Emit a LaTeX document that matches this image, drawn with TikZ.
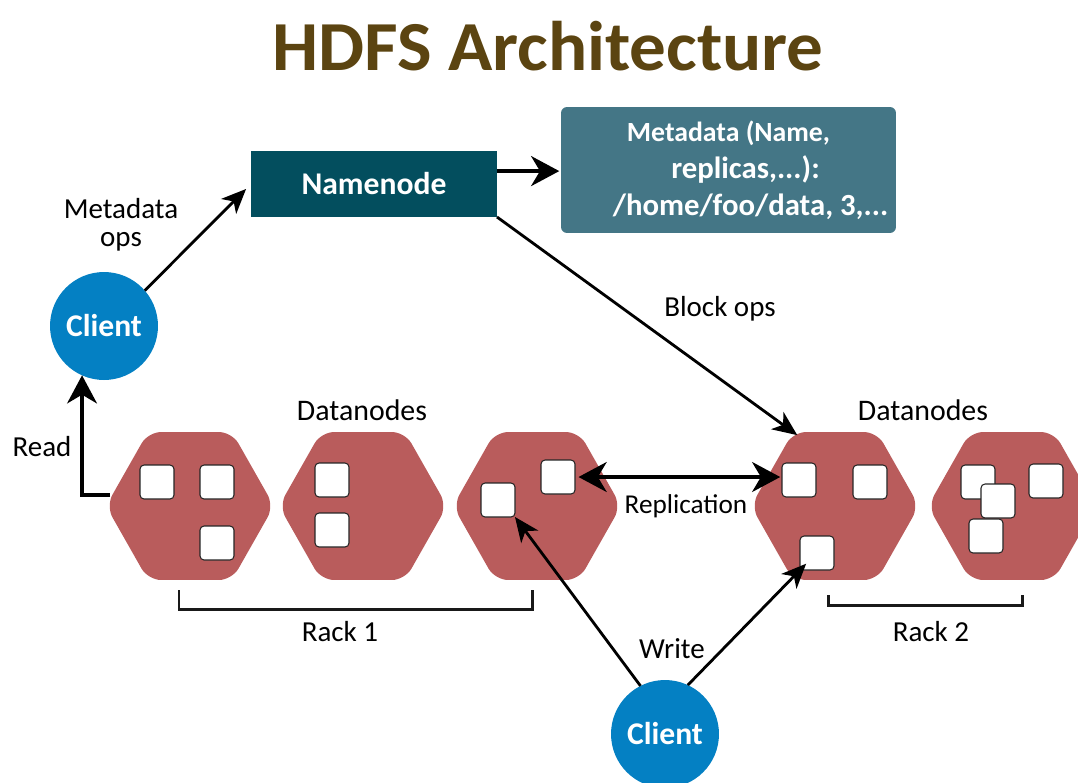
\documentclass[tikz,border=0pt]{standalone}
\usepackage{fontspec}
\usepackage{xcolor}
\usetikzlibrary{arrows.meta,shapes.geometric}
\setmainfont{Carlito}
\definecolor{titlebrown}{HTML}{5B4411}
\definecolor{namefill}{HTML}{034E5E}
\definecolor{metafill}{HTML}{447686}
\definecolor{hexfill}{HTML}{B95C5C}
\definecolor{clientfill}{HTML}{0480C3}
\tikzset{
    label/.style={font=\fontsize{16.5}{16}\selectfont,text=black,inner sep=0pt,align=center},
    whitelabel/.style={font=\fontsize{18}{21}\selectfont\bfseries,text=white,inner sep=0pt,align=center},
    client/.style={circle,fill=clientfill,minimum size=2.16cm,inner sep=0pt,outer sep=0pt},
    datanode/.style={regular polygon,regular polygon sides=6,fill=hexfill,
        minimum size=3.36cm,inner sep=0pt,outer sep=0pt,rounded corners=0.26cm,yscale=1.017,transform shape},
    block/.style={rectangle,draw=black!85,line width=0.6pt,fill=white,rounded corners=0.08cm,
        minimum size=0.68cm,inner sep=0pt,outer sep=0pt},
    thin arrow/.style={line width=1.6pt,-{Stealth[length=14pt,width=12pt,inset=4pt]}},
    thick arrow/.style={line width=2.3pt,-{Stealth[length=16pt,width=17pt,inset=5pt]}},
    bracket/.style={line width=1.7pt,black!90}
}
\begin{document}
\begin{tikzpicture}[x=0.02cm,y=-0.02cm]
    \clip (0,0) rectangle (1078,782);
    \node (title) at (548,46) [inner sep=0pt,text=titlebrown,font=\fontsize{40}{42}\selectfont\bfseries,xscale=1.04,transform shape] {HDFS Architecture};

    \node (namenode) at (374,184) [rectangle,fill=namefill,minimum width=4.92cm,minimum height=1.32cm,inner sep=0pt,outer sep=0pt,whitelabel] {Namenode};
    \node (metadata) at (728.5,170) [rectangle,fill=metafill,rounded corners=0.12cm,minimum width=6.7cm,minimum height=2.52cm,inner sep=0pt,outer sep=0pt,whitelabel,font=\fontsize{17.5}{21}\selectfont\bfseries] {{\fontsize{15.8}{21}\selectfont Metadata (Name,}\\\hspace*{0.68cm}replicas,...):\\\hspace*{0.88cm}/home/foo/data, 3,...};

    \node (clienta) at (104,326) [client,whitelabel] {Client};
    \node (clientb) at (665,734) [client,whitelabel] {Client};

    \node (hexa) at (190,506) [datanode] {};
    \node (hexb) at (363,506) [datanode] {};
    \node (hexc) at (537,506) [datanode] {};
    \node (hexd) at (835,506) [datanode] {};
    \node (hexe) at (1012,506) [datanode] {};

    \node (a1) at (157,482) [block] {};
    \node (a2) at (217,482) [block] {};
    \node (a3) at (217,543) [block] {};
    \node (b1) at (332,480) [block] {};
    \node (b2) at (332,530) [block] {};
    \node (c1) at (558,477) [block] {};
    \node (c2) at (498,500) [block] {};
    \node (d1) at (799,480) [block] {};
    \node (d2) at (870,482) [block] {};
    \node (d3) at (817,553) [block] {};
    \node (e1) at (978,482) [block] {};
    \node (e2) at (1046,481) [block] {};
    \node (e3) at (986,536) [block] {};
    \node (e4) at (998,501) [block] {};

    \node (metaops) at (121,225) [label] {Metadata\\ops};
    \node (read) at (42,447) [label] {Read};
    \node (blockops) at (720,309) [label] {Block ops};
    \node (replication) at (686,506) [label,font=\fontsize{15.5}{16}\selectfont] {Replication};
    \node (write) at (672,649) [label] {Write};
    \node (dataa) at (362,410) [label,font=\fontsize{17}{16}\selectfont] {Datanodes};
    \node (datab) at (923,410) [label,font=\fontsize{17}{16}\selectfont] {Datanodes};
    \node (racka) at (340,632) [label] {Rack 1};
    \node (rackb) at (931,632) [label] {Rack 2};

    \coordinate (racka1) at (179,590);
    \coordinate (racka2) at (532,590);
    \coordinate (rackb1) at (828,595);
    \coordinate (rackb2) at (1022,595);
    \coordinate (readstart) at (110,495);

    \draw[thin arrow,shorten >=4pt] (clienta.41) -- (namenode.180);
    \draw[thick arrow,shorten >=1pt] (namenode.6) -- (namenode.6 -| metadata.west);
    \draw[thin arrow,shorten >=-3pt] (namenode.south east) -- (hexd.120);
    \draw[thick arrow,line width=2pt] (readstart) -| (clienta.246);
    \draw[thick arrow,{Stealth[length=16pt,width=17pt,inset=5pt]}-{Stealth[length=16pt,width=17pt,inset=5pt]},shorten <=2pt,shorten >=1pt] (c1.east) -- (c1.east -| d1.west);
    \draw[thin arrow] (clientb.117) -- (c2.south east);
    \draw[thin arrow,shorten >=-5pt] (clientb.65) -- (d3.south west);
    \draw[bracket] (racka1) -- ++(0,19) -| (racka2);
    \draw[bracket] (rackb1) -- ++(0,10) -| (rackb2);
\end{tikzpicture}
\end{document}
